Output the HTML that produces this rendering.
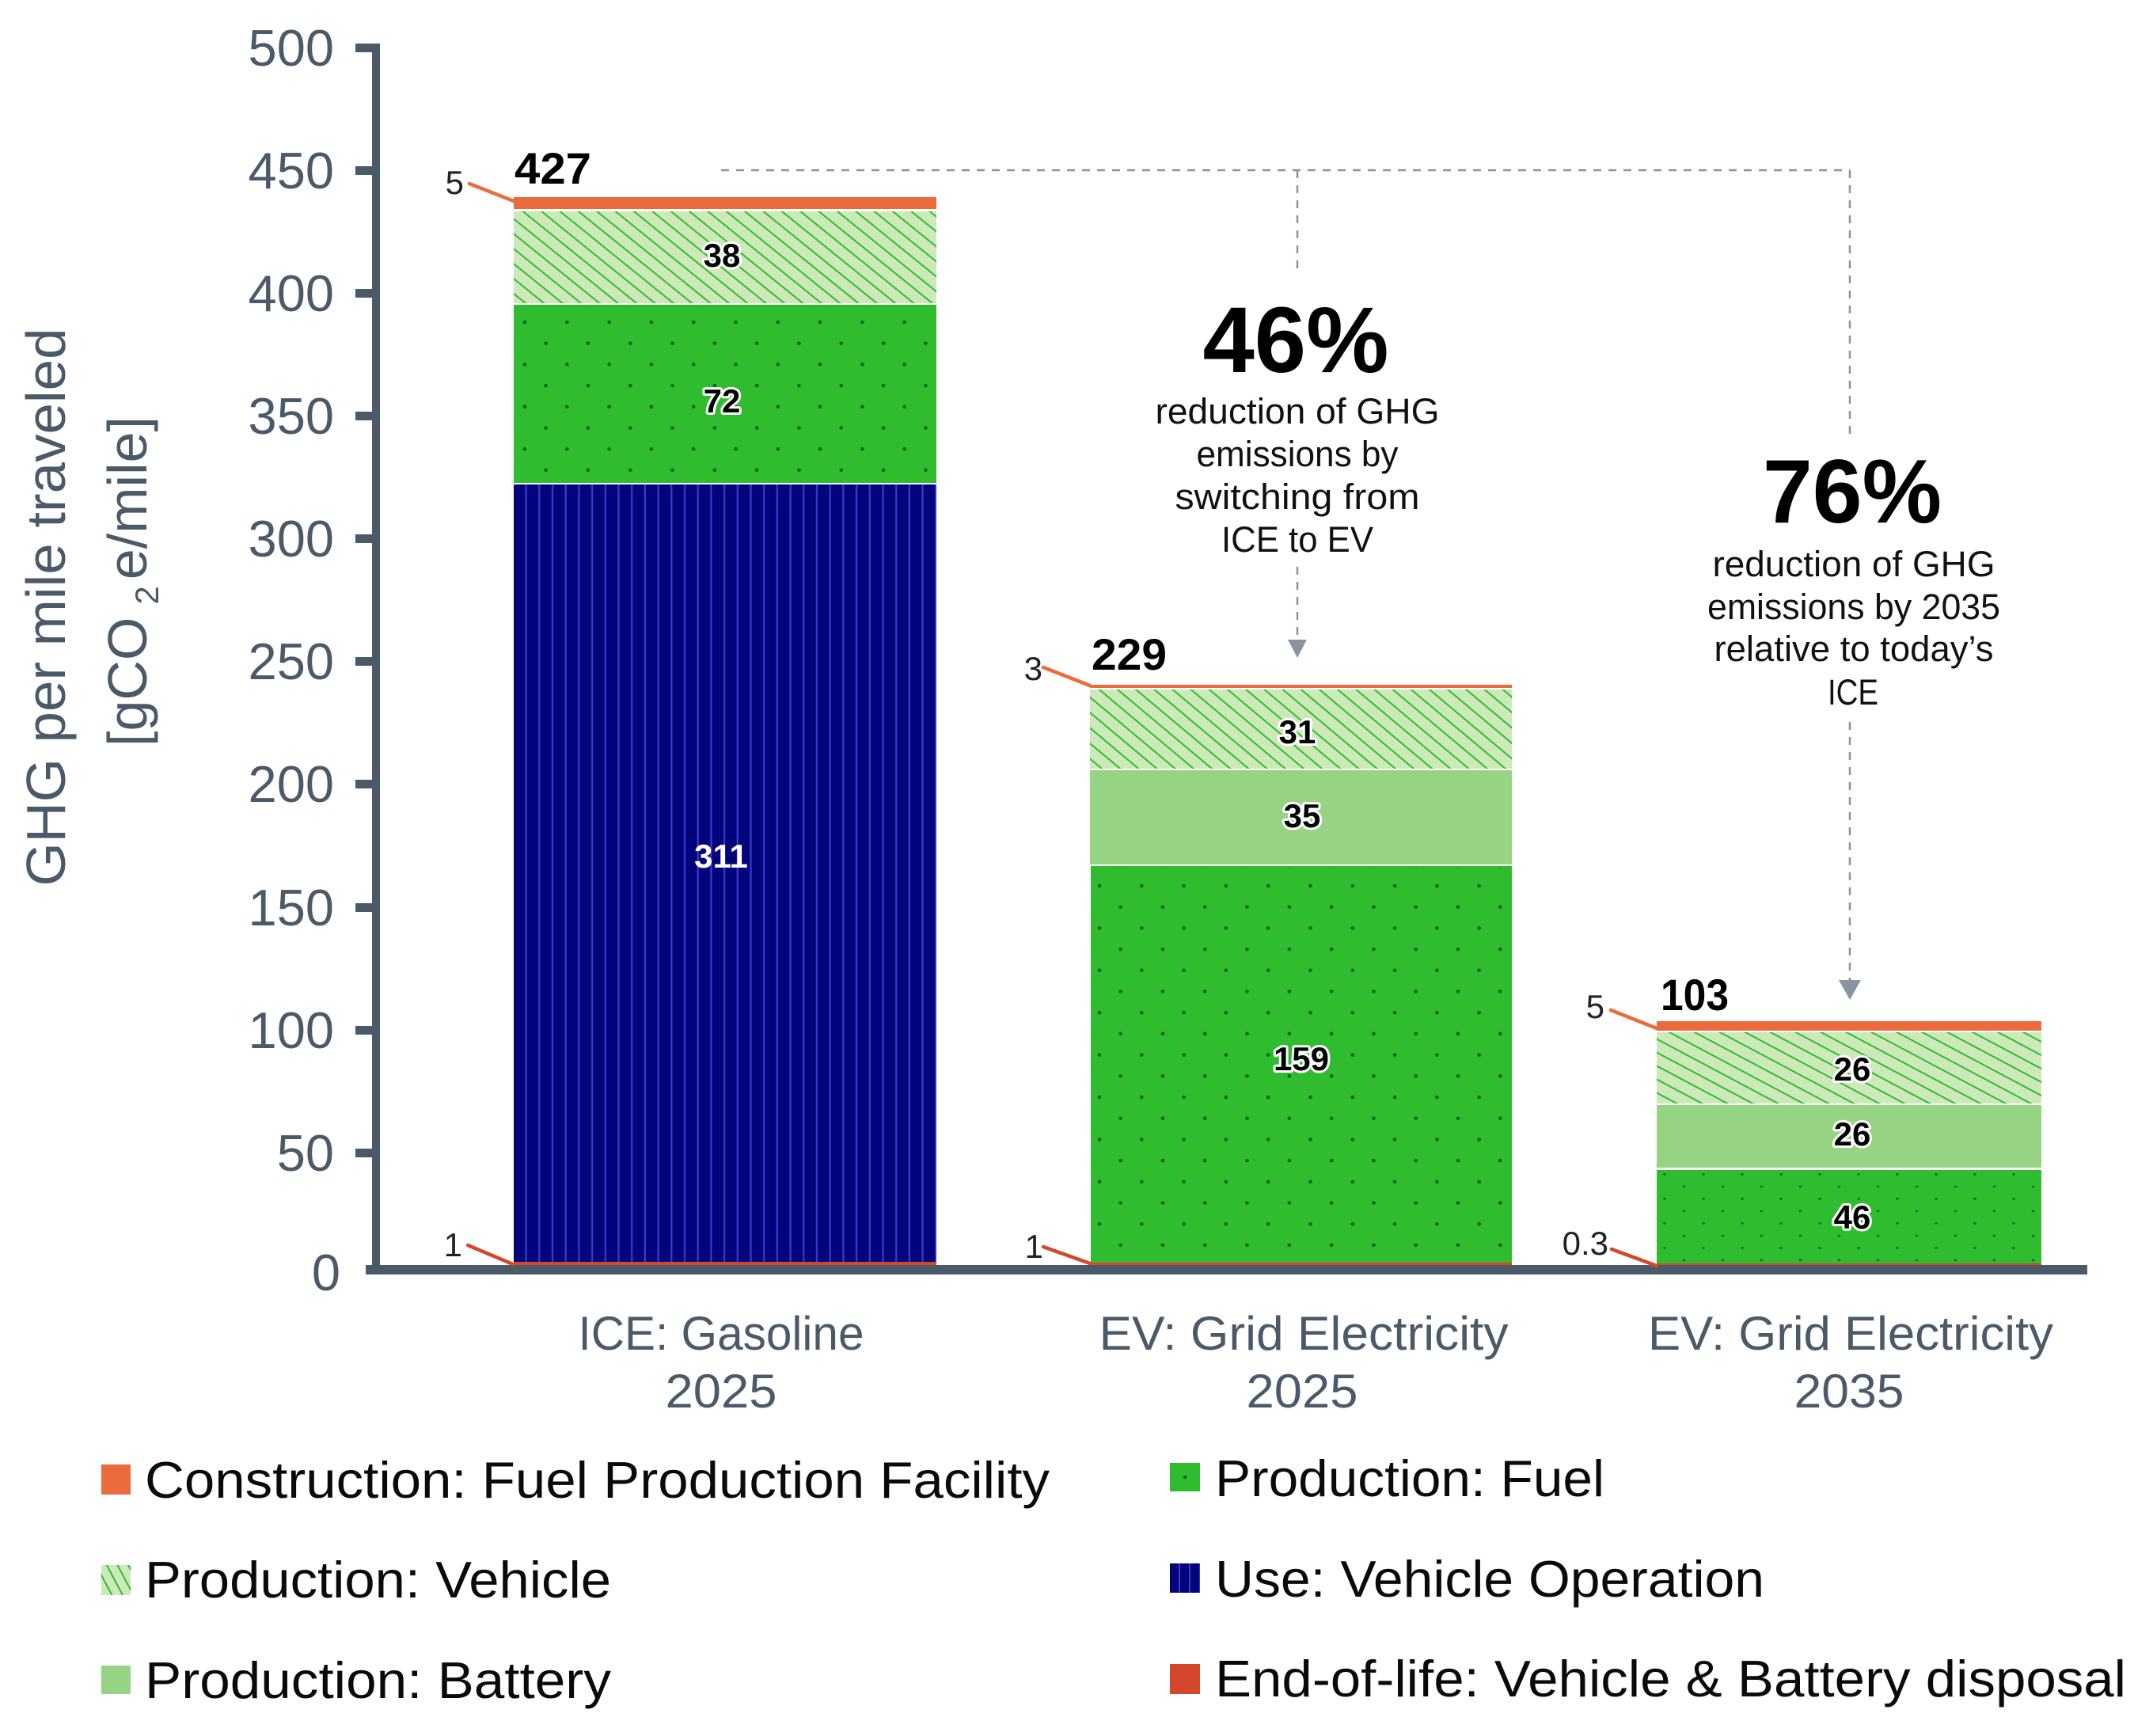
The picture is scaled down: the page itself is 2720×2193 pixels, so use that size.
<!DOCTYPE html>
<html>
<head>
<meta charset="utf-8">
<style>
html,body{margin:0;padding:0;background:#fff;}
svg{display:block;}
text{font-family:"Liberation Sans",Arial,sans-serif;}
</style>
</head>
<body>
<svg width="2720" height="2193" viewBox="0 0 2720 2193" xmlns="http://www.w3.org/2000/svg">
<defs>
  <pattern id="stripes" patternUnits="userSpaceOnUse" x="649" y="0" width="16.7" height="10">
    <rect width="16.7" height="10" fill="#03037a"/>
    <rect x="14.5" width="2.6" height="10" fill="#3a3ad0"/>
  </pattern>
  <pattern id="stripesL" patternUnits="userSpaceOnUse" x="1478" y="0" width="13" height="10">
    <rect width="13" height="10" fill="#03037a"/>
    <rect x="11" width="2" height="10" fill="#3a3ad0"/>
  </pattern>
  <pattern id="dots1" patternUnits="userSpaceOnUse" x="663" y="407" width="53.3" height="53.4">
    <rect width="53.3" height="53.4" fill="#2fbd2f"/>
    <circle cx="0" cy="0" r="2.3" fill="#0e5e2c"/>
    <circle cx="53.3" cy="0" r="2.3" fill="#0e5e2c"/>
    <circle cx="0" cy="53.4" r="2.3" fill="#0e5e2c"/>
    <circle cx="53.3" cy="53.4" r="2.3" fill="#0e5e2c"/>
    <circle cx="26.65" cy="26.7" r="2.3" fill="#0e5e2c"/>
  </pattern>
  <pattern id="dots2" patternUnits="userSpaceOnUse" x="1389" y="1119" width="53.3" height="53.4">
    <rect width="53.3" height="53.4" fill="#2fbd2f"/>
    <circle cx="0" cy="0" r="2.3" fill="#0e5e2c"/>
    <circle cx="53.3" cy="0" r="2.3" fill="#0e5e2c"/>
    <circle cx="0" cy="53.4" r="2.3" fill="#0e5e2c"/>
    <circle cx="53.3" cy="53.4" r="2.3" fill="#0e5e2c"/>
    <circle cx="26.65" cy="26.7" r="2.3" fill="#0e5e2c"/>
  </pattern>
  <pattern id="dots3" patternUnits="userSpaceOnUse" x="2103" y="1483.5" width="49" height="31">
    <rect width="49" height="31" fill="#2fbd2f"/>
    <ellipse cx="0" cy="0" rx="1.8" ry="1.2" fill="#0e5e2c"/>
    <ellipse cx="49" cy="0" rx="1.8" ry="1.2" fill="#0e5e2c"/>
    <ellipse cx="0" cy="31" rx="1.8" ry="1.2" fill="#0e5e2c"/>
    <ellipse cx="49" cy="31" rx="1.8" ry="1.2" fill="#0e5e2c"/>
    <ellipse cx="24.5" cy="15.5" rx="1.8" ry="1.2" fill="#0e5e2c"/>
  </pattern>
  <pattern id="hatch1" patternUnits="userSpaceOnUse" width="20" height="14.7" patternTransform="translate(649,267) rotate(39)">
    <rect width="20" height="14.7" fill="#cde9ba"/>
    <rect x="0" y="6.3" width="20" height="2" fill="#2ebd2e"/>
  </pattern>
  <pattern id="hatch2" patternUnits="userSpaceOnUse" width="20" height="14.9" patternTransform="translate(1377,871) rotate(40)">
    <rect width="20" height="14.9" fill="#cde9ba"/>
    <rect x="0" y="6.4" width="20" height="2" fill="#2ebd2e"/>
  </pattern>
  <pattern id="hatch3" patternUnits="userSpaceOnUse" width="20" height="15" patternTransform="translate(2093,1304) rotate(28)">
    <rect width="20" height="15" fill="#cde9ba"/>
    <rect x="0" y="6.5" width="20" height="2" fill="#2ebd2e"/>
  </pattern>
  <pattern id="hatchL" patternUnits="userSpaceOnUse" width="20" height="12" patternTransform="translate(128,1977) rotate(62)">
    <rect width="20" height="12" fill="#cde9ba"/>
    <rect x="0" y="5" width="20" height="2" fill="#2ebd2e"/>
  </pattern>
</defs>

<rect width="2720" height="2193" fill="#fff"/>

<!-- Y axis title -->
<text transform="translate(82,767) rotate(-90)" text-anchor="middle" font-size="70" fill="#4b5a68" textLength="705" lengthAdjust="spacingAndGlyphs">GHG per mile traveled</text>
<text transform="translate(185,943) rotate(-90)" font-size="70" fill="#4b5a68"><tspan>[gCO</tspan><tspan dx="16" dy="15" font-size="42">2</tspan><tspan dx="8" dy="-15">e/mile]</tspan></text>

<!-- Y tick labels -->
<g font-size="65" fill="#4b5a68" text-anchor="end">
  <text x="422" y="83">500</text>
  <text x="422" y="238">450</text>
  <text x="422" y="393">400</text>
  <text x="422" y="548">350</text>
  <text x="422" y="703">300</text>
  <text x="422" y="858">250</text>
  <text x="422" y="1013">200</text>
  <text x="422" y="1169">150</text>
  <text x="422" y="1324">100</text>
  <text x="422" y="1479">50</text>
  <text x="430" y="1630">0</text>
</g>

<!-- Dashed annotation lines -->
<g stroke="#8a949e" stroke-width="2.5" stroke-dasharray="10 9" fill="none">
  <line x1="911" y1="215" x2="2337" y2="215"/>
  <line x1="1639" y1="215" x2="1639" y2="347"/>
  <line x1="1639" y1="716" x2="1639" y2="808"/>
  <line x1="2337" y1="215" x2="2337" y2="549"/>
  <line x1="2337" y1="912" x2="2337" y2="1238"/>
</g>
<polygon points="1627,808 1651,808 1639,831" fill="#8a949e"/>
<polygon points="2323,1238 2351,1238 2337,1263" fill="#8a949e"/>

<!-- Annotation text -->
<text x="1637" y="470" text-anchor="middle" font-size="118" font-weight="bold" fill="#000" textLength="235" lengthAdjust="spacingAndGlyphs">46%</text>
<g font-size="45" fill="#111" text-anchor="middle">
  <text x="1639" y="535" textLength="359" lengthAdjust="spacingAndGlyphs">reduction of GHG</text>
  <text x="1639" y="589" textLength="255" lengthAdjust="spacingAndGlyphs">emissions by</text>
  <text x="1639" y="643" textLength="309" lengthAdjust="spacingAndGlyphs">switching from</text>
  <text x="1639" y="697" textLength="192" lengthAdjust="spacingAndGlyphs">ICE to EV</text>
</g>
<text x="2340" y="660" text-anchor="middle" font-size="114" font-weight="bold" fill="#000" textLength="226" lengthAdjust="spacingAndGlyphs">76%</text>
<g font-size="45" fill="#111" text-anchor="middle">
  <text x="2342" y="728" textLength="357" lengthAdjust="spacingAndGlyphs">reduction of GHG</text>
  <text x="2342" y="782" textLength="370" lengthAdjust="spacingAndGlyphs">emissions by 2035</text>
  <text x="2342" y="835" textLength="353" lengthAdjust="spacingAndGlyphs">relative to today’s</text>
  <text x="2341" y="890" textLength="64" lengthAdjust="spacingAndGlyphs">ICE</text>
</g>

<!-- Bar 1: ICE -->
<rect x="649" y="249" width="534" height="15" fill="#ec6b3d"/>
<rect x="649" y="267" width="534" height="116" fill="url(#hatch1)"/>
<rect x="649" y="385" width="534" height="225" fill="url(#dots1)"/>
<rect x="649" y="612" width="534" height="986" fill="url(#stripes)"/>
<rect x="649" y="1594" width="534" height="4" fill="#d4472a"/>

<!-- Bar 2: EV 2025 -->
<rect x="1377" y="865" width="533" height="4" fill="#ec6b3d"/>
<rect x="1377" y="871" width="533" height="100" fill="url(#hatch2)"/>
<rect x="1377" y="973" width="533" height="119" fill="#96d483"/>
<rect x="1378" y="1094" width="532" height="504" fill="url(#dots2)"/>
<rect x="1377" y="1595" width="533" height="3" fill="#d4472a"/>

<!-- Bar 3: EV 2035 -->
<rect x="2093" y="1290" width="486" height="12" fill="#ec6b3d"/>
<rect x="2093" y="1304" width="486" height="90" fill="url(#hatch3)"/>
<rect x="2093" y="1396" width="486" height="79" fill="#96d483"/>
<rect x="2093" y="1478" width="486" height="120" fill="url(#dots3)"/>
<rect x="2093" y="1596" width="486" height="2" fill="#d4472a"/>

<!-- Axes -->
<rect x="470" y="55" width="10" height="1555" fill="#4b5a68"/>
<rect x="462" y="1598" width="2175" height="12" fill="#4b5a68"/>
<g fill="#4b5a68">
  <rect x="449" y="55" width="31" height="11"/>
  <rect x="449" y="210" width="31" height="11"/>
  <rect x="449" y="365" width="31" height="11"/>
  <rect x="449" y="520" width="31" height="11"/>
  <rect x="449" y="675" width="31" height="11"/>
  <rect x="449" y="830" width="31" height="11"/>
  <rect x="449" y="985" width="31" height="11"/>
  <rect x="449" y="1141" width="31" height="11"/>
  <rect x="449" y="1296" width="31" height="11"/>
  <rect x="449" y="1451" width="31" height="11"/>
</g>

<!-- Segment labels -->
<g font-size="42" font-weight="bold" text-anchor="middle" fill="#000" stroke="#fff" stroke-width="6" paint-order="stroke" stroke-linejoin="round">
  <text x="912" y="337">38</text>
  <text x="912" y="521">72</text>
  <text x="1639" y="939">31</text>
  <text x="1645" y="1045">35</text>
  <text x="1644" y="1352">159</text>
  <text x="2340" y="1365">26</text>
  <text x="2340" y="1447">26</text>
  <text x="2340" y="1552">46</text>
</g>
<text x="911" y="1096" font-size="42" font-weight="bold" text-anchor="middle" fill="#fff">311</text>

<!-- Totals -->
<g font-size="56" font-weight="bold" fill="#000">
  <text x="650" y="232" textLength="97" lengthAdjust="spacingAndGlyphs">427</text>
  <text x="1379" y="846" textLength="95" lengthAdjust="spacingAndGlyphs">229</text>
  <text x="2098" y="1276" textLength="86" lengthAdjust="spacingAndGlyphs">103</text>
</g>

<!-- Small leader labels -->
<g font-size="42" fill="#222" text-anchor="end">
  <text x="586" y="245">5</text>
  <text x="584" y="1587">1</text>
  <text x="1317" y="859">3</text>
  <text x="1318" y="1589">1</text>
  <text x="2027" y="1286">5</text>
  <text x="2032" y="1585">0.3</text>
</g>
<g stroke-width="4.5" stroke-linecap="round">
  <line x1="593" y1="232" x2="649" y2="254" stroke="#ec6b3d"/>
  <line x1="591" y1="1573" x2="648" y2="1597" stroke="#d4472a"/>
  <line x1="1318" y1="843" x2="1377" y2="866" stroke="#ec6b3d"/>
  <line x1="1318" y1="1575" x2="1377" y2="1596" stroke="#d4472a"/>
  <line x1="2035" y1="1276" x2="2093" y2="1299" stroke="#ec6b3d"/>
  <line x1="2036" y1="1578" x2="2093" y2="1599" stroke="#d4472a"/>
</g>

<!-- X labels -->
<g font-size="60" fill="#4b5a68" text-anchor="middle">
  <text x="911" y="1705" textLength="361" lengthAdjust="spacingAndGlyphs">ICE: Gasoline</text>
  <text x="911" y="1778" textLength="141" lengthAdjust="spacingAndGlyphs">2025</text>
  <text x="1647" y="1705" textLength="517" lengthAdjust="spacingAndGlyphs">EV: Grid Electricity</text>
  <text x="1645" y="1778" textLength="141" lengthAdjust="spacingAndGlyphs">2025</text>
  <text x="2338" y="1705" textLength="512" lengthAdjust="spacingAndGlyphs">EV: Grid Electricity</text>
  <text x="2336" y="1778" textLength="139" lengthAdjust="spacingAndGlyphs">2035</text>
</g>

<!-- Legend -->
<rect x="128" y="1850" width="37" height="38" fill="#ec6b3d"/>
<rect x="128" y="1977" width="37" height="38" fill="url(#hatchL)"/>
<rect x="128" y="2104" width="37" height="36" fill="#96d483"/>
<rect x="1478" y="1848" width="38" height="36" fill="#2fbd2f"/>
<circle cx="1497" cy="1866" r="2.3" fill="#0e5e2c"/>
<rect x="1478" y="1975" width="38" height="37" fill="url(#stripesL)"/>
<rect x="1478" y="2102" width="38" height="38" fill="#d4472a"/>
<g font-size="65" fill="#0a0a0a">
  <text x="183" y="1892" textLength="1143" lengthAdjust="spacingAndGlyphs">Construction: Fuel Production Facility</text>
  <text x="183" y="2018" textLength="589" lengthAdjust="spacingAndGlyphs">Production: Vehicle</text>
  <text x="183" y="2145" textLength="589" lengthAdjust="spacingAndGlyphs">Production: Battery</text>
  <text x="1535" y="1890" textLength="492" lengthAdjust="spacingAndGlyphs">Production: Fuel</text>
  <text x="1535" y="2017" textLength="694" lengthAdjust="spacingAndGlyphs">Use: Vehicle Operation</text>
  <text x="1535" y="2143" textLength="1151" lengthAdjust="spacingAndGlyphs">End-of-life: Vehicle &amp; Battery disposal</text>
</g>
</svg>
</body>
</html>
